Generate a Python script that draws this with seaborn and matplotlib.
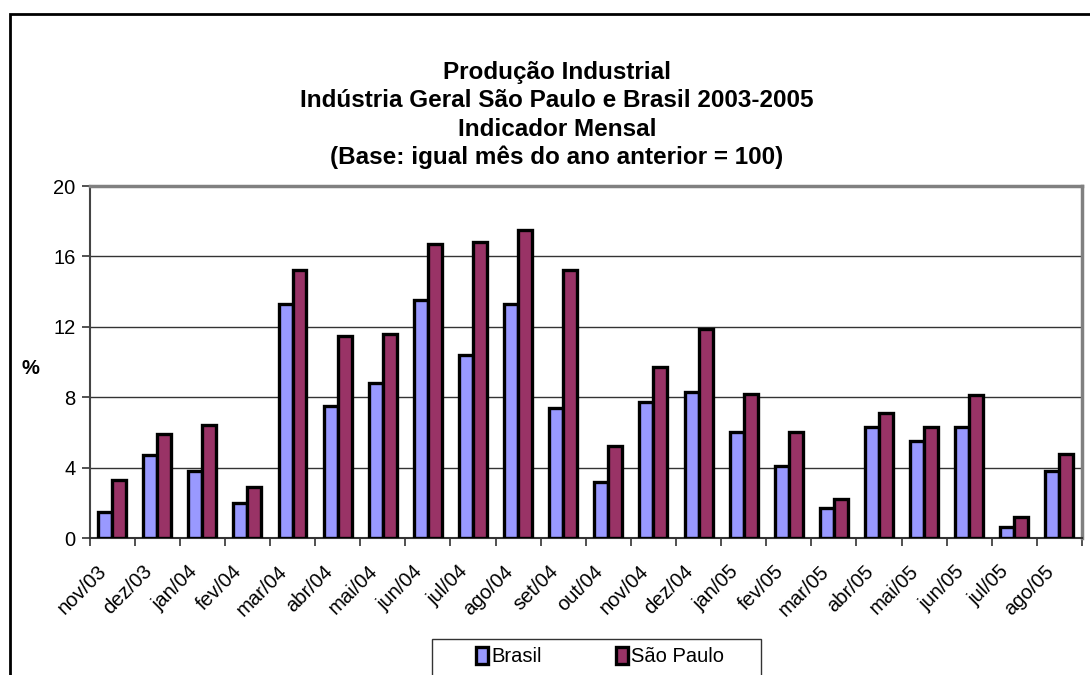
import matplotlib
matplotlib.use("Agg")
import matplotlib.pyplot as plt
from matplotlib.patches import Rectangle, Patch
import pandas as pd
import seaborn as sns

# Monthly change vs. same month of previous year (%)
months = ["nov/03", "dez/03", "jan/04", "fev/04", "mar/04", "abr/04", "mai/04",
          "jun/04", "jul/04", "ago/04", "set/04", "out/04", "nov/04", "dez/04",
          "jan/05", "fev/05", "mar/05", "abr/05", "mai/05", "jun/05", "jul/05",
          "ago/05"]
brasil = [1.5, 4.7, 3.8, 2.0, 13.3, 7.5, 8.8, 13.5, 10.4, 13.3, 7.4, 3.2,
          7.7, 8.3, 6.0, 4.1, 1.7, 6.3, 5.5, 6.3, 0.6, 3.8]
sao_paulo = [3.3, 5.9, 6.4, 2.9, 15.2, 11.5, 11.6, 16.7, 16.8, 17.5, 15.2, 5.2,
             9.7, 11.9, 8.2, 6.0, 2.2, 7.1, 6.3, 8.1, 1.2, 4.8]
series_names = ["Brasil", "São Paulo"]
series_colors = ["#9999FF", "#993366"]
title_lines = ["Produção Industrial",
               "Indústria Geral São Paulo e Brasil 2003-2005",
               "Indicador Mensal",
               "(Base: igual mês do ano anterior = 100)"]
y_ticks = [0, 4, 8, 12, 16, 20]

df = pd.DataFrame({
    "mes": months * 2,
    "valor": brasil + sao_paulo,
    "serie": [series_names[0]] * len(months) + [series_names[1]] * len(months),
})

sns.set_theme(style="white")
plt.rcParams["font.family"] = ["Liberation Sans", "DejaVu Sans"]
plt.rcParams.update({"text.color": "black", "axes.labelcolor": "black",
                     "xtick.color": "black", "ytick.color": "black"})

W, H = 1090, 675
fig = plt.figure(figsize=(W / 100, H / 100), dpi=100)
ax = fig.add_axes([89.5 / W, 1 - 538 / H, (1082 - 89.5) / W, (538 - 186) / H])

sns.barplot(data=df, x="mes", y="valor", hue="serie", order=months,
            hue_order=series_names, palette=series_colors, width=0.62,
            edgecolor="black", linewidth=2.4, saturation=1, legend=False,
            zorder=3, ax=ax)

ax.set_xlim(-0.5, len(months) - 0.5)
ax.set_ylim(0, 20)
ax.set_yticks(y_ticks)
ax.set_yticklabels([str(v) for v in y_ticks], fontsize=14.5)
ax.set_xlabel("")
ax.set_ylabel("")

# rotated category labels (anchored slightly left of each group centre),
# boundary ticks between groups
label_offset = 0.33
ax.set_xticks([i - label_offset for i in range(len(months))])
ax.set_xticklabels(months, rotation=45, ha="right", rotation_mode="anchor",
                   fontsize=14.5)
ax.set_xticks([i - 0.5 for i in range(len(months) + 1)], minor=True)
ax.tick_params(axis="x", which="major", length=0, pad=17)
ax.tick_params(axis="x", which="minor", length=6, width=1.2, color="#333333",
               direction="out", bottom=True)
ax.tick_params(axis="y", which="major", length=6, width=1.2, color="#333333",
               direction="out", left=True, pad=4)

for v in y_ticks[1:-1]:
    ax.axhline(v, color="#333333", linewidth=1.0, zorder=1)

ax.spines["top"].set_color("#808080")
ax.spines["top"].set_linewidth(2.5)
ax.spines["right"].set_color("#808080")
ax.spines["right"].set_linewidth(2.5)
ax.spines["left"].set_color("#444444")
ax.spines["left"].set_linewidth(1.5)
ax.spines["bottom"].set_color("#333333")
ax.spines["bottom"].set_linewidth(1.5)

fig.text(30 / W, 1 - 368 / H, "%", fontsize=14.5, fontweight="bold",
         ha="center", va="center")

for i, line in enumerate(title_lines):
    fig.text(557 / W, 1 - (72 + 28.5 * i) / H, line, fontsize=17.5,
             fontweight="bold", ha="center", va="center")

handles = [Patch(facecolor=c, edgecolor="black", linewidth=2.4, label=n)
           for n, c in zip(series_names, series_colors)]
leg = fig.legend(handles=handles, loc="upper center",
                 bbox_to_anchor=(600 / W, 1 - 638 / H), ncol=2,
                 fontsize=14.5, frameon=False, handlelength=0.6,
                 handleheight=0.9, handletextpad=0.15, columnspacing=3.7,
                 borderpad=0.45, borderaxespad=0)

# legend box and outer chart frame
fig.patches.append(Rectangle((432 / W, -0.05), (761 - 432) / W,
                             0.05 + 1 - 639 / H, transform=fig.transFigure,
                             fill=False, edgecolor="#333333", linewidth=1.0))
fig.patches.append(Rectangle((9.5 / W, -0.1), 1.2, 1.1 - 14 / H,
                             transform=fig.transFigure, fill=False,
                             edgecolor="black", linewidth=2.0))

fig.savefig("out.png", dpi=100)
